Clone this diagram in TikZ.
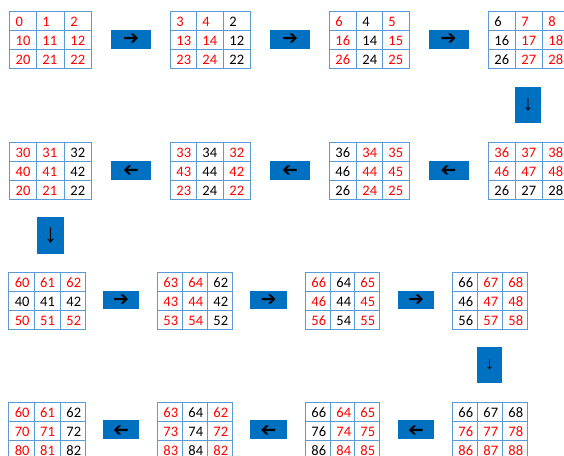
\documentclass[tikz,border=0pt]{standalone}
\usepackage{fontspec}
\setmainfont{Carlito}
\newfontfamily\symfont{DejaVu Sans}
\newfontfamily\thinfont{Liberation Sans}
\definecolor{gridblue}{RGB}{91,155,213}
\definecolor{boxblue}{RGB}{0,112,192}
\definecolor{cellred}{RGB}{255,0,0}
\tikzset{
  cellbox/.style={draw=gridblue, line width=0.9pt, rectangle, anchor=north west,
    inner xsep=6pt, inner ysep=0pt, minimum height=19pt,
    text height=11pt, text depth=0pt, align=left,
    font=\fontsize{14.5}{16}\selectfont},
  arrowbox/.style={fill=boxblue, draw=none, rectangle, inner sep=0pt,
    minimum width=40pt, minimum height=19pt, font=\symfont\bfseries\fontsize{19}{19}\selectfont},
  downbox/.style={fill=boxblue, draw=none, rectangle, inner sep=0pt,
    minimum width=26pt, minimum height=36pt, font=\thinfont\fontsize{21}{21}\selectfont},
}
% #1 name, #2 xs (4 values), #3 ytop, #4 cells color/text row-major
\newcommand\mygrid[4]{%
  \foreach \cc/\tt [count=\i from 0] in {#4} {%
    \pgfmathtruncatemacro\col{mod(\i,3)}%
    \pgfmathtruncatemacro\row{int(\i/3)}%
    \pgfmathsetmacro\xa{{#2}[\col]}%
    \pgfmathsetmacro\xb{{#2}[\col+1]}%
    \pgfmathsetmacro\yy{#3+19*\row}%
    \pgfmathsetmacro\ww{\xb-\xa-12}%
    \node[cellbox, text width=\ww pt, text=\cc] (#1c\i) at (\xa,\yy) {\tt};
  }%
}
\begin{document}
\begin{tikzpicture}[x=1pt,y=-1pt]
\useasboundingbox (0,0) rectangle (564,455);
\clip (0,0) rectangle (564,455);
% ---------- Row 1 ----------
\mygrid{a1}{9.3,36,64,91}{11}{cellred/0,cellred/1,cellred/2,cellred/10,cellred/11,cellred/12,cellred/20,cellred/21,cellred/22}
\mygrid{a2}{170,196,223,250}{11}{cellred/3,cellred/4,black/2,cellred/13,cellred/14,black/12,cellred/23,cellred/24,black/22}
\mygrid{a3}{329,356,382,409}{11}{cellred/6,black/4,cellred/5,cellred/16,black/14,cellred/15,cellred/26,black/24,cellred/25}
\mygrid{a4}{488,515,542,569}{11}{black/6,cellred/7,cellred/8,black/16,cellred/17,cellred/18,black/26,cellred/27,cellred/28}
\node[arrowbox] (ra1) at (131,39.5) {➔};
\node[arrowbox] (ra2) at (290,39.5) {➔};
\node[arrowbox] (ra3) at (448.5,39.5) {➔};
\node[downbox] (da1) at (528,105) {↓};
% ---------- Row 2 ----------
\mygrid{b1}{9.3,36,64,91}{142}{cellred/30,cellred/31,black/32,cellred/40,cellred/41,black/42,cellred/20,cellred/21,black/22}
\mygrid{b2}{170,196,223,250}{142}{cellred/33,black/34,cellred/32,cellred/43,black/44,cellred/42,cellred/23,black/24,cellred/22}
\mygrid{b3}{329,356,382,409}{142}{black/36,cellred/34,cellred/35,black/46,cellred/44,cellred/45,black/26,cellred/24,cellred/25}
\mygrid{b4}{488,515,542,569}{142}{cellred/36,cellred/37,cellred/38,cellred/46,cellred/47,cellred/48,black/26,black/27,black/28}
\node[arrowbox, rotate=180] (rb1) at (131,170) {➔};
\node[arrowbox, rotate=180] (rb2) at (290,170) {➔};
\node[arrowbox, rotate=180] (rb3) at (448.5,170) {➔};
\node[downbox, minimum width=27pt, minimum height=37pt, font=\thinfont\fontsize{26}{26}\selectfont] (db1) at (50.5,235.5) {↓};
% ---------- Row 3 ----------
\mygrid{c1}{8.3,33.7,60,85}{272}{cellred/60,cellred/61,cellred/62,black/40,black/41,black/42,cellred/50,cellred/51,cellred/52}
\mygrid{c2}{157,182,207,232}{272}{cellred/63,cellred/64,black/62,cellred/43,cellred/44,black/42,cellred/53,cellred/54,black/52}
\mygrid{c3}{305,330,354,379}{272}{cellred/66,black/64,cellred/65,cellred/46,black/44,cellred/45,cellred/56,black/54,cellred/55}
\mygrid{c4}{452,477,502,527}{272}{black/66,cellred/67,cellred/68,black/46,cellred/47,cellred/48,black/56,cellred/57,cellred/58}
\node[arrowbox, minimum width=36pt, minimum height=18pt] (rc1) at (121,300) {➔};
\node[arrowbox, minimum width=37pt, minimum height=18pt] (rc2) at (268.5,300) {➔};
\node[arrowbox, minimum width=36pt, minimum height=18pt] (rc3) at (416,300) {➔};
\node[downbox, minimum width=25pt, minimum height=36pt, font=\thinfont\fontsize{18}{18}\selectfont] (dc1) at (489.5,365) {↓};
% ---------- Row 4 ----------
\mygrid{d1}{8.3,33.7,60,85}{402}{cellred/60,cellred/61,black/62,cellred/70,cellred/71,black/72,cellred/80,cellred/81,black/82}
\mygrid{d2}{157,182,207,232}{402}{cellred/63,black/64,cellred/62,cellred/73,black/74,cellred/72,cellred/83,black/84,cellred/82}
\mygrid{d3}{305,330,354,379}{402}{black/66,cellred/64,cellred/65,black/76,cellred/74,cellred/75,black/86,cellred/84,cellred/85}
\mygrid{d4}{452,477,502,527}{402}{black/66,black/67,black/68,cellred/76,cellred/77,cellred/78,cellred/86,cellred/87,cellred/88}
\node[arrowbox, rotate=180, minimum width=36pt, minimum height=19pt] (rd1) at (121,429.5) {➔};
\node[arrowbox, rotate=180, minimum width=37pt, minimum height=19pt] (rd2) at (268.5,429.5) {➔};
\node[arrowbox, rotate=180, minimum width=36pt, minimum height=19pt] (rd3) at (416,429.5) {➔};
\end{tikzpicture}
\end{document}
